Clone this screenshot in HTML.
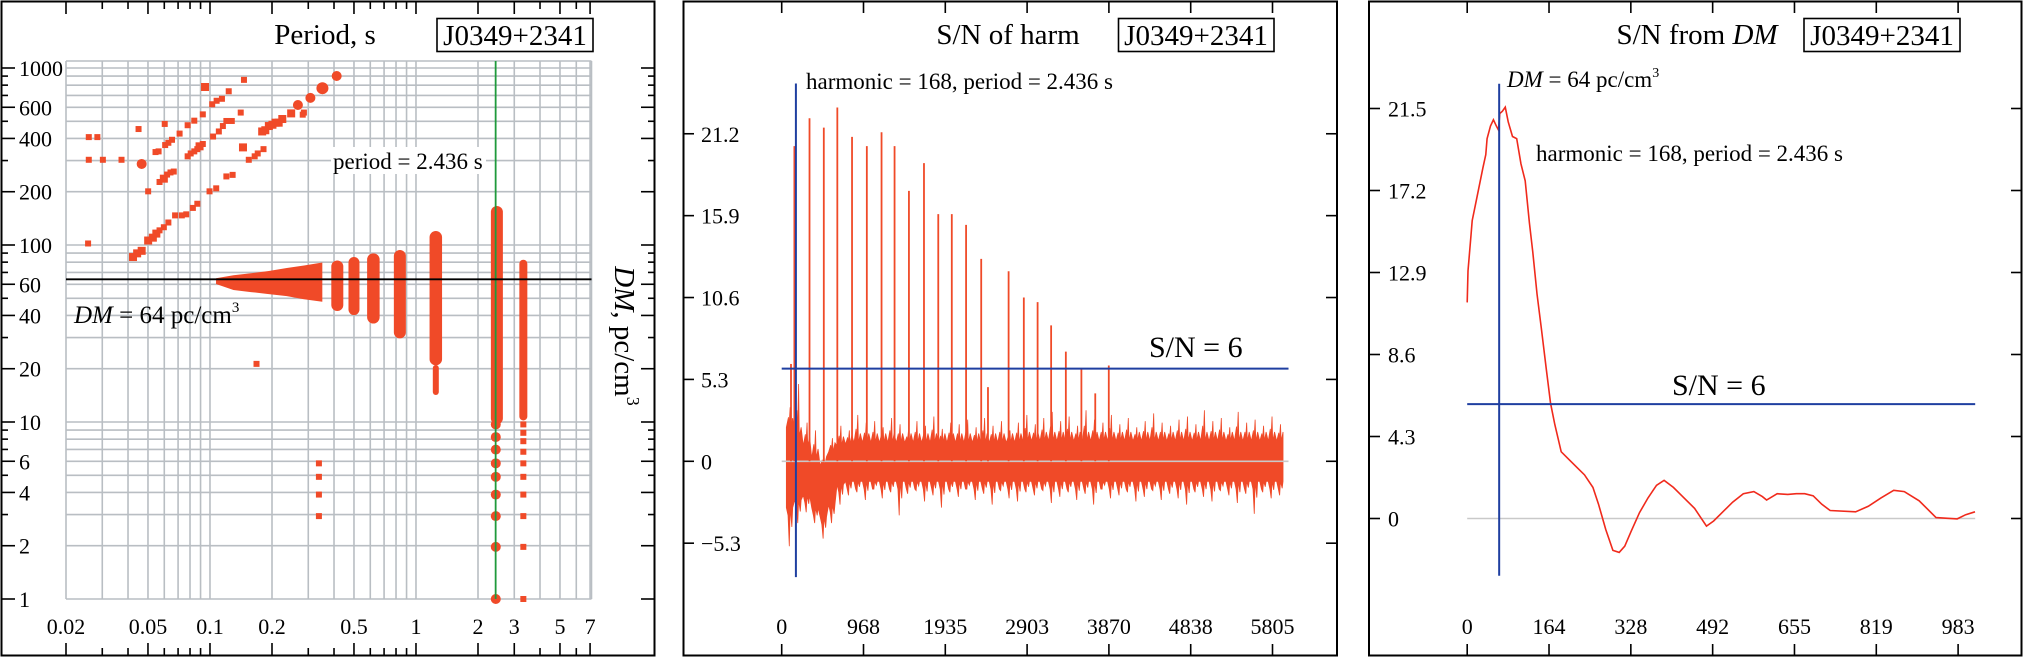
<!DOCTYPE html>
<html><head><meta charset="utf-8"><style>
html,body{margin:0;padding:0;background:#fff;}
svg{display:block;font-family:"Liberation Serif",serif;}
</style></head><body>
<svg id="fig" width="2024" height="658" viewBox="0 0 2024 658" xmlns="http://www.w3.org/2000/svg">
<g id="p1"></g>
<g id="p2"></g>
<g id="p3"></g>
</svg>
<script>
// ---------- Panel 1 data ----------
const p1YTicks=[1000,600,400,200,100,60,40,20,10,6,4,2,1];
const p1XTicks=[0.02,0.05,0.1,0.2,0.5,1,2,3,5,7];
const scatPeriod=[0.0258,0.0284,0.0258,0.0302,0.0372,0.0256,0.045,0.0466,0.0501,0.0544,0.0563,0.0603,0.0606,0.0628,0.0654,0.0712,0.0779,0.0839,0.0923,0.1025,0.1077,0.1143,0.1233,0.1462,0.0946,
0.0779,0.0806,0.0839,0.0868,0.089,0.0923,0.1035,0.1104,0.1155,0.1201,0.1276,0.141,
0.0569,0.0597,0.0619,0.0643,0.0667,
0.0423,0.0443,0.0466,0.0501,0.0528,0.0549,0.0569,0.0597,0.0628,0.0677,0.073,0.0767,0.0826,0.0868,0.0995,0.1072,0.1201,0.1288,
0.1446,0.1543,0.1648,0.1705,0.1819,
0.1792,0.1856,0.1931,0.201,0.2082,0.2155,0.2244,0.2478,0.2672,0.282,0.2857,0.3072,0.3514,0.4121,
0.1682,0.3379,0.3379,0.3379,0.3379,
2.44,2.44,2.44,2.44,2.44,2.44,2.44,2.44,2.44,
3.32,3.32,3.32,3.32,3.32,3.32,3.32,3.32,3.32,3.32];
const scatDM=[407,407,303,303,303,102,452,287,201,335,338,483,367,378,393,426,475,504,547,624,653,670,739,857,781,
317,329,338,348,361,372,410,438,470,502,502,560,
227,237,250,257,260,
85.5,89.7,92.7,106,110,116,121,126,134,147,147,149,162,171,201,209,244,249,
356,303,317,329,348,
438,445,470,478,491,491,515,554,618,545,560,678,769,901,
21.3,5.84,4.90,3.89,2.94,
9.69,8.22,6.98,5.84,4.90,3.89,2.94,1.97,1.0,
9.69,8.69,7.79,6.79,5.84,4.90,3.89,2.94,1.97,1.0];
const scatSize=[3,3,3,3,3,3,3,5,3,3,3,3,3,3,3,3,3,3,3,3,3,3,3,3,4,
3,3,3,3,4,3,3,3,3,3,3,3,
3,4,3,3,3,
4,4,4,4,4,4,3,3,3,3,3,3,3,3,3,3,3,3,
4,3,3,3,3,
4,4,4,4,4,4,4,4,5,3,3,5,6,5,
3,3,3,3,3,
5,5,5,5,5,5,5,5,5,
3,3,3,3,3,3,3,3,3,3];
const blobPeriod=[0.107,0.130,0.158,0.193,0.236,0.286,0.351];
const blobHi=[64.9,67.5,69.3,71.3,74.1,76.6,79.6];
const blobLo=[60.2,55.7,54.2,52.8,51.4,49.4,47.8];
const bandPeriod=[0.415,0.5,0.621,0.835,1.248,1.248,2.47,3.32];
const bandHi=[81.7,85.5,89.7,93.7,120,21,166,82.6];
const bandLo=[42.4,40.2,36.0,29.7,20.9,14.2,9.69,10.2];
const bandW=[12,11,12.5,12,12.5,6,12,8];
const p1Period=2.436, p1DM=64;

// ---------- Panel 2 data ----------
const p2XTicks=[0,968,1935,2903,3870,4838,5805];
const p2XTickVals=[0,967.6,1935.2,2902.8,3870.4,4838,5805.6];
const p2YTicks=["21.2","15.9","10.6","5.3","0","\u22125.3"];
const p2YTickVals=[21.2,15.9,10.6,5.3,0,-5.3];
const peakHarm=[110,150,329,498,658,832,1007,1181,1335,1505,1683,1852,2012,2181,2360,2440,2684,2864,3027,3187,3361,3545,3709,3869];
const peakSN=[6.3,20.4,22.2,21.6,22.9,21.0,20.4,21.3,20.4,17.5,19.3,16.0,16.0,15.3,13.1,4.8,12.3,10.6,10.3,8.8,7.1,6.0,4.4,6.2];
const noiseStart=100, noiseStep=100;
const noiseHi=[3.5,5.0,2.5,2.0,0.5,1.5,2.3,2.0,3.0,2.5,2.6,2.2,2.8,2.4,2.0,2.6,2.3,2.9,2.1,2.5,2.4,2.7,2.2,2.8,2.3,2.6,2.0,2.5,3.0,2.4,2.8,3.2,2.6,2.9,2.3,3.3,2.7,2.5,3.0,2.4,2.8,2.2,2.6,3.1,2.5,2.3,2.7,2.9,2.4,3.3,2.6,2.8,2.2,3.2,2.5,2.7,2.3,2.9,2.4];
const noiseLo=[-5.5,-4.0,-3.3,-4.0,-5.0,-4.0,-2.8,-2.2,-2.0,-2.5,-1.8,-2.4,-2.0,-3.5,-2.1,-1.9,-2.6,-2.2,-3.0,-2.0,-2.3,-1.8,-2.5,-2.1,-2.8,-1.9,-2.4,-2.6,-2.0,-2.2,-1.9,-2.7,-2.3,-2.0,-2.5,-2.1,-2.8,-1.8,-2.4,-2.2,-2.0,-2.6,-2.3,-1.9,-2.5,-2.1,-2.4,-2.8,-2.0,-2.3,-2.6,-1.9,-2.2,-2.7,-2.1,-3.4,-2.0,-2.4,-2.2];
const noiseCoreHi=[2.2,1.6,1.0,0.2,-0.3,0.6,1.0,1.1,1.2,1.2,1.2,1.2,1.2,1.2,1.2,1.2,1.2,1.2,1.2,1.2,1.2,1.2,1.2,1.2,1.2,1.2,1.2,1.2,1.3,1.3,1.3,1.3,1.3,1.3,1.3,1.3,1.3,1.3,1.3,1.3,1.3,1.3,1.3,1.3,1.3,1.3,1.3,1.3,1.3,1.3,1.3,1.3,1.3,1.3,1.3,1.3,1.3,1.3,1.3];
const noiseCoreLo=[-3.0,-2.5,-2.2,-3.0,-3.6,-2.8,-1.5,-1.3,-1.3,-1.3,-1.3,-1.3,-1.3,-1.3,-1.3,-1.3,-1.3,-1.3,-1.3,-1.3,-1.3,-1.3,-1.3,-1.3,-1.3,-1.3,-1.3,-1.3,-1.3,-1.3,-1.3,-1.3,-1.3,-1.3,-1.3,-1.3,-1.3,-1.3,-1.3,-1.3,-1.3,-1.3,-1.3,-1.3,-1.3,-1.3,-1.3,-1.3,-1.3,-1.3,-1.3,-1.3,-1.3,-1.3,-1.3,-1.3,-1.3,-1.3,-1.3];
const p2Harm=168, p2Thresh=6, p2Xmax=5995;

// ---------- Panel 3 data ----------
const p3XTicks=[0,164,328,492,655,819,983];
const p3XTickVals=[0,163.8,327.6,491.4,655.2,819,982.8];
const p3YTicks=["21.5","17.2","12.9","8.6","4.3","0"];
const p3YTickVals=[21.5,17.2,12.9,8.6,4.3,0];
const curveDM=[0,1.6,7.6,10,16,22.8,31.3,37.2,39.8,46.6,52.5,58.4,62.7,65.2,70.3,76.2,82.1,90.7,99.1,107.6,116.1,124.5,131.3,139.8,148.3,158.5,166.9,175.4,188.2,200.8,222,234.8,251.7,262.9,277.3,291.7,304.3,315.4,328.1,345,362,379,394.2,412.8,429.8,455.3,463.7,479,493.4,514.6,531.6,552.8,573.9,590.9,599.4,620.6,641.8,658.8,675.7,692.7,709.7,726.6,777.6,803,828.4,853.9,875.1,904.8,938.6,981,998,1016.6];
const curveSN=[11.33,12.98,14.85,15.62,16.39,17.27,18.37,19.08,19.92,20.58,20.91,20.58,20.37,21.24,21.35,21.57,20.80,20.03,19.92,18.60,17.71,15.51,13.97,11.77,10.00,7.80,6.04,4.93,3.50,3.17,2.62,2.29,1.63,0.75,-0.57,-1.67,-1.78,-1.45,-0.68,0.31,1.08,1.74,2.00,1.63,1.19,0.53,0.20,-0.40,-0.13,0.42,0.86,1.30,1.41,1.15,0.97,1.30,1.26,1.30,1.30,1.19,0.75,0.42,0.35,0.64,1.08,1.48,1.41,0.93,0.05,-0.02,0.20,0.35];
const p3DM=64, p3Thresh=6;

// ---------- helpers ----------
const NS="http://www.w3.org/2000/svg";
const RED="#f04a28", BLUE="#1f3fa0", GRID="#b9bec3";
function mk(parent,tag,attrs,text){const e=document.createElementNS(NS,tag);for(const k in attrs)e.setAttribute(k,attrs[k]);if(text!==undefined)e.textContent=text;parent.appendChild(e);return e;}
function line(g,x1,y1,x2,y2,stroke,w){return mk(g,'line',{x1,y1,x2,y2,stroke,'stroke-width':w});}

// ================= Panel 1 =================
(function(){
const g=document.getElementById('p1');
const L=66,R=591.5,T=61,B=599;
const lx0=Math.log10(0.02), ppd=206;
const px=p=>L+ppd*(Math.log10(p)-lx0);
const py=d=>B-177*Math.log10(d);
let e=mk(g,'rect',{x:1.5,y:1.5,width:653,height:654,fill:'#fff',stroke:'#000','stroke-width':2});

// minor positions
const xm=[];for(const dec of [0.01,0.1,1])for(let k=1;k<10;k++){const v=k*dec;if(v>=0.02-1e-9&&v<=7.2)xm.push(v);}
const ym=[];for(const dec of [1,10,100])for(let k=1;k<10;k++)ym.push(k*dec);ym.push(1000);
const grid=mk(g,'g',{});
xm.forEach(v=>line(grid,px(v),T,px(v),B,GRID,1.6));
ym.forEach(v=>line(grid,L,py(v),R,py(v),GRID,1.6));
line(grid,R,T,R,B,GRID,1.6);line(grid,L,T,R,T,GRID,1.6);
// frame ticks
const tk=mk(g,'g',{});
xm.forEach(v=>{const big=[0.02,0.1,1].some(q=>Math.abs(q-v)<1e-9)||p1XTicks.some(q=>Math.abs(q-v)<1e-9);const l=big?13:8;line(tk,px(v),1,px(v),1+l,'#000',1.6);line(tk,px(v),656,px(v),656-l,'#000',1.6);});
ym.forEach(v=>{const big=p1YTicks.includes(v);const l=big?14:7;line(tk,1,py(v),1+l,py(v),'#000',1.6);line(tk,655,py(v),655-l,py(v),'#000',1.6);});
// tick labels
p1YTicks.forEach(v=>{const t=mk(g,'text',{x:19,y:py(v)+8,'font-size':22},String(v));});
p1XTicks.forEach(v=>{const t=mk(g,'text',{x:px(v),y:634,'font-size':22,'text-anchor':'middle'},String(v));});
// blob
let pts=[];blobPeriod.forEach((p,i)=>pts.push(px(p)+','+py(blobHi[i])));
for(let i=blobPeriod.length-1;i>=0;i--)pts.push(px(blobPeriod[i])+','+py(blobLo[i]));
e=mk(g,'polygon',{points:pts.join(' '),fill:RED});
// bands
bandPeriod.forEach((p,i)=>{const w=bandW[i];const r=mk(g,'rect',{x:px(p)-w/2,y:py(bandHi[i]),width:w,height:py(bandLo[i])-py(bandHi[i]),rx:w/2,fill:RED});
});
// scatter
scatPeriod.forEach((p,i)=>{const s=scatSize[i];let m;
 if(s>=5){m=mk(g,'circle',{cx:px(p),cy:py(scatDM[i]),r:s,fill:RED});}
 else{m=mk(g,'rect',{x:px(p)-s,y:py(scatDM[i])-s,width:2*s,height:2*s,fill:RED});}
 });
// reference lines
e=line(g,px(p1Period),T,px(p1Period),B,'#1f9a3c',1.8);
e=line(g,L,py(p1DM),R,py(p1DM),'#000',1.8);
// texts
mk(g,'rect',{x:331,y:147,width:155,height:27,fill:'#fff'});
e=mk(g,'text',{x:333,y:169,'font-size':23},'period = 2.436 s');
e=mk(g,'text',{x:74,y:323,'font-size':25});
e.innerHTML='<tspan font-style="italic">DM</tspan> = 64 pc/cm<tspan font-size="15" dy="-11">3</tspan>';
e=mk(g,'text',{x:325,y:44,'font-size':29,'text-anchor':'middle'},'Period, s');
mk(g,'rect',{x:437,y:18.5,width:156,height:33,fill:'#fff',stroke:'#000','stroke-width':1.6});
e=mk(g,'text',{x:515,y:45,'font-size':29,'text-anchor':'middle'},'J0349+2341');
e=mk(g,'text',{transform:'translate(615,336) rotate(90)','font-size':29,'text-anchor':'middle'});
e.innerHTML='<tspan font-style="italic">DM</tspan>, pc/cm<tspan font-size="18" dy="-12">3</tspan>';
})();

// ================= Panel 2 =================
(function(){
const g=document.getElementById('p2');
const x0=781.7,sx=0.08454,y0=461.3,sy=15.45;
const X=v=>x0+v*sx, Y=v=>y0-v*sy;
let e=mk(g,'rect',{x:683.5,y:1.5,width:653.5,height:654,fill:'#fff',stroke:'#000','stroke-width':2});

p2XTickVals.forEach((v,i)=>{line(g,X(v),1,X(v),13,'#000',1.6);line(g,X(v),656,X(v),644,'#000',1.6);
 e=mk(g,'text',{x:X(v),y:634,'font-size':22,'text-anchor':'middle'},String(p2XTicks[i]));});
p2YTickVals.forEach((v,i)=>{line(g,683,Y(v),694,Y(v),'#000',1.6);line(g,1337,Y(v),1326,Y(v),'#000',1.6);
 e=mk(g,'text',{x:701,y:Y(v)+8,'font-size':22},p2YTicks[i]);});
// noise
const n=Math.min(noiseHi.length,noiseLo.length);
let top=[],bot=[];
for(let i=0;i<n;i++){const v=noiseStart+i*noiseStep;
 top.push(X(v-45)+','+Y(noiseCoreHi[i]),X(v-20)+','+Y((noiseHi[i]+noiseCoreHi[i])/2),X(v-14)+','+Y(noiseCoreHi[i]),X(v)+','+Y(noiseHi[i]),X(v+8)+','+Y(noiseCoreHi[i]),X(v+30)+','+Y(noiseCoreHi[i]+0.6));
 bot.push(X(v-45)+','+Y(noiseCoreLo[i]),X(v-25)+','+Y(noiseCoreLo[i]-0.5),X(v-10)+','+Y(noiseLo[i]),X(v)+','+Y(noiseCoreLo[i]),X(v+20)+','+Y((noiseLo[i]+noiseCoreLo[i])/2),X(v+30)+','+Y(noiseCoreLo[i]));}
e=mk(g,'polygon',{points:top.concat(bot.reverse()).join(' '),fill:RED,stroke:RED,'stroke-width':0.8});

e=line(g,X(0),Y(0),X(p2Xmax),Y(0),'#c9c9c9',1.6);
peakHarm.forEach((h,i)=>{const l=line(g,X(h),Y(0),X(h),Y(peakSN[i]),RED,1.8);});
e=line(g,X(0),Y(p2Thresh),X(p2Xmax),Y(p2Thresh),BLUE,2);
e=line(g,X(p2Harm),Y(24.45),X(p2Harm),Y(-7.5),BLUE,2);
e=mk(g,'text',{x:806,y:89,'font-size':23},'harmonic = 168, period = 2.436 s');
e=mk(g,'text',{x:1149,y:357,'font-size':30},'S/N = 6');
e=mk(g,'text',{x:1008,y:44,'font-size':29,'text-anchor':'middle'},'S/N of harm');
mk(g,'rect',{x:1118.5,y:18.5,width:155.5,height:33,fill:'#fff',stroke:'#000','stroke-width':1.6});
e=mk(g,'text',{x:1196,y:45,'font-size':29,'text-anchor':'middle'},'J0349+2341');
})();

// ================= Panel 3 =================
(function(){
const g=document.getElementById('p3');
const x0=1467.2,sx=0.4995,y0=518.5,sy=19.07;
const X=v=>x0+v*sx, Y=v=>y0-v*sy;
let e=mk(g,'rect',{x:1369,y:1.5,width:652.5,height:654,fill:'#fff',stroke:'#000','stroke-width':2});

p3XTickVals.forEach((v,i)=>{line(g,X(v),1,X(v),13,'#000',1.6);line(g,X(v),656,X(v),644,'#000',1.6);
 e=mk(g,'text',{x:X(v),y:634,'font-size':22,'text-anchor':'middle'},String(p3XTicks[i]));});
p3YTickVals.forEach((v,i)=>{line(g,1369,Y(v),1380,Y(v),'#000',1.6);line(g,2022,Y(v),2011,Y(v),'#000',1.6);
 e=mk(g,'text',{x:1388,y:Y(v)+8,'font-size':22},p3YTicks[i]);});
e=line(g,X(0),Y(0),X(1017),Y(0),'#c9c9c9',1.6);
const pts=curveDM.map((d,i)=>X(d)+','+Y(curveSN[i])).join(' ');
e=mk(g,'polyline',{points:pts,fill:'none',stroke:'#f02a1c','stroke-width':1.6});
e=line(g,X(0),Y(p3Thresh),X(1017),Y(p3Thresh),BLUE,2);
e=line(g,X(p3DM),Y(22.8),X(p3DM),Y(-3.0),BLUE,2);
e=mk(g,'text',{x:1507,y:87,'font-size':23});
e.innerHTML='<tspan font-style="italic">DM</tspan> = 64 pc/cm<tspan font-size="14" dy="-10">3</tspan>';
e=mk(g,'text',{x:1536,y:161,'font-size':23},'harmonic = 168, period = 2.436 s');
e=mk(g,'text',{x:1672,y:395,'font-size':30},'S/N = 6');
e=mk(g,'text',{x:1697,y:44,'font-size':29,'text-anchor':'middle'});
e.innerHTML='S/N from <tspan font-style="italic">DM</tspan>';
mk(g,'rect',{x:1804,y:18.5,width:156,height:33,fill:'#fff',stroke:'#000','stroke-width':1.6});
e=mk(g,'text',{x:1882,y:45,'font-size':29,'text-anchor':'middle'},'J0349+2341');
})();
</script>
</body></html>
